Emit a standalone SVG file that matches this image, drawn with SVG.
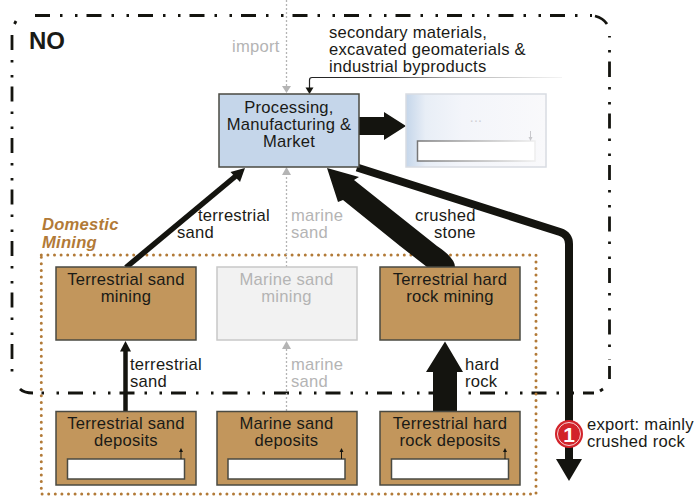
<svg xmlns="http://www.w3.org/2000/svg" width="694" height="496" viewBox="0 0 694 496">
<style>
text{font-family:"Liberation Sans",Arial,sans-serif;font-size:16.6px;letter-spacing:.25px;fill:#1a1a16}
.m{text-anchor:middle}
.g{fill:#b4b4b4}
.br{fill:#c2965c;stroke:#4a4a42;stroke-width:1.5}
.w{fill:#fff;stroke:#4a4a42;stroke-width:1.5}
.gl{fill:none;stroke:#b4b4b4;stroke-width:1.3;stroke-dasharray:2 2}
.gh{fill:#b4b4b4}
.k{fill:#14140f}
.dom{font-weight:bold;font-style:italic;fill:#b27a37}
.bd{fill:none;stroke:#14140f;stroke-width:2.8}
.dd{stroke-dasharray:15 10 2.500 12.500 2.500 9}
</style>
<defs>
<linearGradient id="fade" x1="0" x2="1" y1="0" y2="0"><stop offset="0" stop-color="#c5d6ea"/><stop offset=".14" stop-color="#e8eef6"/><stop offset=".4" stop-color="#f3f5fa"/><stop offset="1" stop-color="#f9f9fb"/></linearGradient>
<linearGradient id="fs" x1="0" x2="1" y1="0" y2="0"><stop offset="0" stop-color="#777"/><stop offset="1" stop-color="#eee"/></linearGradient>
<linearGradient id="ln" gradientUnits="userSpaceOnUse" x1="309" x2="562" y1="0" y2="0"><stop offset="0" stop-color="#222"/><stop offset=".3" stop-color="#333"/><stop offset=".55" stop-color="#aaa"/><stop offset="1" stop-color="#f4f4f4"/></linearGradient>
</defs>
<g id="region-no">
<path class="bd dd" d="M35 15.500H592"/>
<path class="bd dd" d="M609.500 62V360"/>
<path class="bd dd" d="M609.500 36V62" stroke-dashoffset="26"/>
<path class="bd dd" d="M33 393H594" stroke-dashoffset="-35"/>
<path class="bd dd" d="M12 35V382"/>
<path class="bd" d="M595 16Q603 18 607 24M20 389Q24 393 33 393M14.500 24L16 21M600 391L603 389M609.500 366V379"/>
</g>
<rect id="region-mining" x="41.300" y="255" width="494.700" height="239" fill="none" stroke="#b27a37" stroke-width="3" stroke-linecap="round" stroke-dasharray="0 6.6"/>
<g id="connectors">
<path class="gl" d="M286.500 0V87M286.500 267V175M286.500 411V349"/>
<path class="gh" d="M282 86H291L286.500 93ZM282 175H291L286.500 167ZM282 349H291L286.500 341Z"/>
<path d="M309.500 88V80Q309.500 77.500 312 77.500H562" fill="none" stroke="url(#ln)" stroke-width="1.200"/>
<path class="k" d="M305.500 87.500H313.500L309.500 94Z"/>
<path class="k" d="M359 117H384V112L406 126L384 140V135H359Z"/>
<path d="M126 267.500L237 175" fill="none" stroke="#14140f" stroke-width="5.500"/>
<path class="k" d="M245 168L230.500 172L240 182Z"/>
<path class="k" d="M327 168L359 177L354 180L437 246Q455 258 455 267H427L400 246L343 200L338 202Z"/>
<path d="M357 167.500L560 232Q569 235 569 244V460" fill="none" stroke="#14140f" stroke-width="8"/>
<path class="k" d="M556 459H582L569 481Z"/>
<path d="M125.500 411V350" fill="none" stroke="#14140f" stroke-width="4.500"/>
<path class="k" d="M120 351.500H131L125.500 341Z"/>
<path class="k" d="M433 411V372H426L445 341.500L463 372H457V411Z"/>
</g>
<g id="processing"><rect x="219" y="94" width="140" height="73" fill="#c5d6ea" stroke="#4a4a42" stroke-width="1.500"/>
<text class="m" x="289" y="113">Processing,</text><text class="m" x="289" y="130">Manufacturing &amp;</text><text class="m" x="289" y="147">Market</text></g>
<g id="faded"><rect x="406" y="94" width="140" height="73" fill="url(#fade)" stroke="#d8dbe2" stroke-width="1.500"/>
<rect x="417.500" y="141" width="117.500" height="20" fill="#fff" stroke="url(#fs)" stroke-width="1.500"/>
<text class="m" x="476" y="122" style="font-size:14px;fill:#d0d0d4">...</text>
<path d="M530.500 131V140" stroke="#c8c8cc" stroke-width="1"/><path d="M528.500 137H532.500L530.500 141Z" fill="#c8c8cc"/></g>
<g id="sand-mining"><rect class="br" x="56" y="267" width="140" height="73"/><text class="m" x="126" y="285">Terrestrial sand</text><text class="m" x="126" y="302">mining</text></g>
<g id="marine-mining"><rect x="217" y="267" width="140" height="73" fill="#f2f2f2" stroke="#c8c8c8" stroke-width="1.500"/><text class="m g" x="286.500" y="285">Marine sand</text><text class="m g" x="286.500" y="302">mining</text></g>
<g id="rock-mining"><rect class="br" x="380" y="267" width="140" height="73"/><text class="m" x="450" y="285">Terrestrial hard</text><text class="m" x="450" y="302">rock mining</text></g>
<g id="sand-deposits"><rect class="br" x="56" y="411.500" width="140" height="73.500"/><text class="m" x="126" y="429">Terrestrial sand</text><text class="m" x="126" y="446">deposits</text><rect class="w" x="67.500" y="459" width="117" height="20"/><path d="M181 459V451" stroke="#14140f"/><path class="k" d="M179 452H183L181 448Z"/></g>
<g id="marine-deposits"><rect class="br" x="217" y="411.500" width="140" height="73.500"/><text class="m" x="286.500" y="429">Marine sand</text><text class="m" x="286.500" y="446">deposits</text><rect class="w" x="228" y="459" width="117" height="20"/><path d="M341.500 459V451" stroke="#14140f"/><path class="k" d="M339.500 452H343.500L341.500 448Z"/></g>
<g id="rock-deposits"><rect class="br" x="380" y="411.500" width="140" height="73.500"/><text class="m" x="450" y="429">Terrestrial hard</text><text class="m" x="450" y="446">rock deposits</text><rect class="w" x="391.500" y="459" width="117" height="20"/><path d="M505 459V451" stroke="#14140f"/><path class="k" d="M503 452H507L505 448Z"/></g>
<g id="labels">
<text x="29" y="49" style="font-size:24px;font-weight:bold;letter-spacing:0">NO</text>
<text class="g" x="232" y="52">import</text>
<text x="329" y="38">secondary materials,</text><text x="329" y="55">excavated geomaterials &amp;</text><text x="329" y="71.500">industrial byproducts</text>
<text class="dom" x="42" y="230">Domestic</text><text class="dom" x="42" y="247.500">Mining</text>
<text x="198" y="221">terrestrial</text><text x="177" y="238">sand</text>
<text class="g" x="291" y="221">marine</text><text class="g" x="291" y="238">sand</text>
<text x="415" y="221">crushed</text><text x="434" y="238">stone</text>
<text x="130" y="370">terrestrial</text><text x="130" y="387">sand</text>
<text class="g" x="291" y="370">marine</text><text class="g" x="291" y="387">sand</text>
<text x="465" y="370">hard</text><text x="465" y="387">rock</text>
<text x="587" y="430">export: mainly</text><text x="587" y="447">crushed rock</text>
</g>
<g id="badge"><circle cx="569" cy="434" r="14" fill="#d2232a"/><circle cx="569" cy="434" r="11.500" fill="none" stroke="#fff" stroke-width=".8"/><text class="m" x="569" y="441.500" style="font-size:21px;font-weight:bold;letter-spacing:0;fill:#fff">1</text></g>
</svg>
